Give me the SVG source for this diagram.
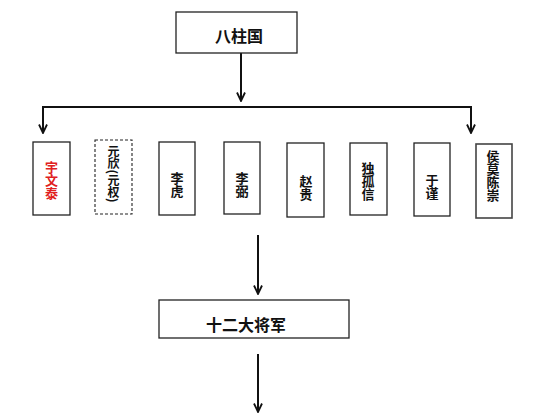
<svg xmlns="http://www.w3.org/2000/svg" width="554" height="418" viewBox="0 0 554 418">
<style>
.box{fill:#fff;stroke:#222;stroke-width:1.3}
.dash{fill:#fff;stroke:#222;stroke-width:1.1;stroke-dasharray:3,2}
.t{font-family:"Noto Sans CJK SC","Noto Sans CJK TC",sans-serif;font-weight:bold;fill:#111;text-anchor:middle}
.v{font-size:13px;writing-mode:vertical-rl}
.h{font-size:16px}
.red{fill:#e02020}
.conn{fill:none;stroke:#111;stroke-width:2}
</style>
<defs>
<marker id="arr" viewBox="0 0 10 10" refX="9.5" refY="5" markerWidth="10" markerHeight="10" markerUnits="userSpaceOnUse" orient="auto">
<path d="M1,1 L9.5,5 L1,9" fill="none" stroke="#111" stroke-width="1.8"/>
</marker>
</defs>
<rect width="554" height="418" fill="#fff"/>
<g id="connectors">
<path class="conn" d="M241,53 L241,101" marker-end="url(#arr)"/>
<path class="conn" d="M43,107 L471,107"/>
<path class="conn" d="M43,106 L43,133" marker-end="url(#arr)"/>
<path class="conn" d="M471,106 L471,133" marker-end="url(#arr)"/>
<path class="conn" d="M258,235 L258,294" marker-end="url(#arr)"/>
<path class="conn" d="M258,354 L258,412" marker-end="url(#arr)"/>
</g>
<g id="n-bazhuguo">
<rect class="box" x="176" y="12" width="121" height="41"/>
<text class="t h" x="239" y="42">八柱国</text>
</g>
<g id="n-yuwentai">
<rect class="box" x="33" y="142" width="37" height="73"/>
<text class="t v red" x="51.5" y="180">宇文泰</text>
</g>
<g id="n-yuanxin">
<rect class="dash" x="95" y="140" width="37" height="74"/>
<text class="t v" x="113.5" y="174" style="font-size:12px">元欣(元权)</text>
</g>
<g id="n-lihu">
<rect class="box" x="159" y="142" width="36" height="73"/>
<text class="t v" x="177" y="185">李虎</text>
</g>
<g id="n-libi">
<rect class="box" x="224" y="142" width="36" height="72"/>
<text class="t v" x="242" y="185">李弼</text>
</g>
<g id="n-zhaogui">
<rect class="box" x="287" y="143" width="37" height="74"/>
<text class="t v" x="306" y="188">赵贵</text>
</g>
<g id="n-duguxin">
<rect class="box" x="350" y="143" width="37" height="72"/>
<text class="t v" x="368" y="181">独孤信</text>
</g>
<g id="n-yujin">
<rect class="box" x="414" y="143" width="36" height="73"/>
<text class="t v" x="432" y="187">于谨</text>
</g>
<g id="n-houmochenchong">
<rect class="box" x="476" y="144" width="36" height="74" style="stroke:#444;stroke-width:1.6"/>
<text class="t v" x="493" y="176">侯莫陈崇</text>
</g>
<g id="n-shier">
<rect class="box" x="159" y="300" width="190" height="38"/>
<text class="t h" x="246" y="331">十二大将军</text>
</g>
</svg>
